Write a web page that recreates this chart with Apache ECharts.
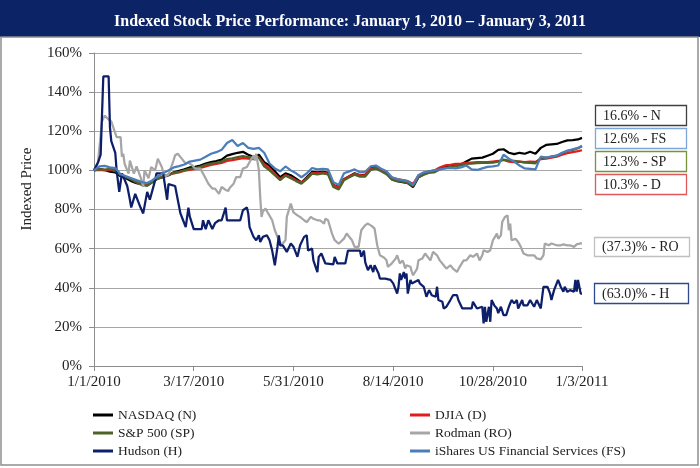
<!DOCTYPE html>
<html><head><meta charset="utf-8">
<script src="https://cdn.jsdelivr.net/npm/echarts@6/dist/echarts.min.js"></script>
<style>html,body{margin:0;padding:0;background:#fff}#c{width:700px;height:468px}</style>
</head><body><div id="c"></div>
<script>
// x values are days since 1/1/2010
const indexDays = [0,4,8,12,16,20,24,28,32,36,40,44,48,52,56,60,64,68,72,76,80,84,88,92,96,100,104,108,112,116,120,124,128,132,136,140,144,148,152,156,160,164,168,172,176,180,184,188,192,196,200,204,208,212,216,220,224,228,232,236,240,244,248,252,256,260,264,268,272,276,280,284,288,292,296,300,304,308,312,316,320,324,328,332,336,340,344,348,352,356,360,364,367];
const nasdaq = [100,100.8,100.2,99.3,99.0,97.0,96.0,94.5,93.5,93.0,
92.3,94.0,95.8,96.5,97.5,99.0,99.8,100.5,101.5,101.8,
102.5,103.5,104.2,104.8,105.5,107.5,108.3,109.0,109.5,108.0,
107.0,108.0,104.2,102.5,99.5,96.5,98.5,97.5,95.8,93.8,
96.5,99.3,99.0,99.3,98.8,92.5,91.5,95.5,97.0,98.5,
97.5,97.8,101.0,101.7,100.2,98.5,95.5,94.5,94.0,93.5,
91.5,96.5,98.0,99.0,99.3,101.0,101.5,102.3,102.5,103.0,
104.5,106.0,106.3,106.5,107.5,108.5,110.5,110.8,109.0,108.3,
109.0,108.5,109.5,108.5,111.5,113.0,113.3,113.5,114.5,115.3,
115.5,115.8,116.6];
const djia = [100,100.3,100.0,100.2,99.8,97.8,96.8,95.8,94.5,93.5,
92.8,94.5,96.0,97.0,97.8,98.5,99.0,99.8,100.3,100.8,
101.2,102.0,102.8,103.3,103.8,104.8,105.2,105.8,106.3,106.0,
105.8,106.5,103.2,101.0,98.0,95.5,97.5,96.5,95.0,93.8,
96.0,98.7,98.5,98.8,98.3,92.5,91.0,95.5,97.0,98.3,
97.5,97.5,100.8,101.3,100.3,98.8,96.3,95.5,95.0,94.5,
93.0,97.5,98.5,99.5,100.0,101.5,102.5,102.8,103.3,103.5,
103.8,104.0,104.2,104.2,104.2,104.5,104.8,105.3,104.5,104.2,
104.5,104.2,104.5,104.3,105.8,106.0,106.5,107.0,108.0,108.8,
109.3,109.8,110.3];
const sp500 = [100,100.6,100.4,100.8,100.3,97.5,96.5,95.3,93.8,92.5,
92.2,94.2,95.8,96.8,97.5,98.8,99.3,100.0,100.8,101.2,
101.8,102.8,103.5,103.8,104.5,105.8,106.2,106.8,107.3,106.8,
106.3,106.5,102.0,100.0,97.5,95.0,97.3,96.0,94.5,93.2,
95.5,98.3,98.0,98.5,98.0,91.5,90.3,95.0,96.5,97.8,
96.8,96.8,100.2,100.9,99.6,98.0,95.3,94.5,94.2,93.5,
92.0,96.5,97.8,98.8,99.0,100.5,101.2,101.8,102.2,102.5,
103.3,103.5,103.7,103.8,103.8,104.0,104.5,105.5,105.0,104.8,
104.5,104.0,103.8,103.6,106.5,106.5,107.0,107.5,108.8,110.0,
110.5,111.3,112.3];
const ishares = [100,102.0,102.3,101.5,101.2,98.0,97.0,96.0,95.0,94.0,
93.5,95.0,97.0,98.5,100.0,101.5,102.2,103.0,104.5,105.0,
105.5,107.0,108.5,109.3,110.5,114.0,115.5,112.5,114.0,111.5,
111.0,111.5,109.0,103.5,101.0,99.5,102.0,100.0,98.5,96.5,
98.5,101.2,100.5,100.8,100.5,94.0,92.5,98.5,99.5,100.5,
99.0,99.3,102.0,102.5,100.8,99.5,96.5,95.5,95.0,94.5,
92.5,97.5,99.0,99.5,100.0,100.5,101.0,101.3,101.0,101.5,
102.5,100.5,100.2,101.0,101.8,102.0,102.5,108.0,106.0,104.5,
102.5,101.0,100.8,100.5,107.0,106.5,107.0,107.5,109.0,110.0,
110.8,111.5,112.6];
const hudsonDays = [0,3,5,7,11,12,13,16,17,19,21,25,27,28,31,35,37,40,42,46,47,52,55,56,61,63,65,67,69,71,72,75,81,82,84,86,89,91,94,96,99,100,110,112,115,116,117,120,122,124,125,127,130,132,134,136,138,139,140,142,145,148,150,153,155,158,160,161,164,165,168,169,171,174,175,180,181,183,186,189,191,200,201,203,204,206,208,210,211,214,215,219,223,225,228,229,230,231,233,234,235,236,238,239,244,245,248,250,252,254,257,258,259,262,263,265,268,270,273,274,277,284,285,288,292,293,294,295,297,298,299,301,303,304,306,308,310,312,314,316,318,319,322,323,326,328,331,333,336,338,341,343,344,346,349,351,353,354,356,358,361,362,363,364,366,367];
const hudsonValues = [100,104,108,148,148,122,115,109,100,89,98.5,92,85,81,88,81,78,89,85,95,98.5,98.5,85,93,92,85,78,74.5,71,81,76.5,70,70,74.5,70,74.5,70,73,74.5,74.5,81,74.5,74.5,79.6,81,78,71,66,64.3,66.8,63.4,66,66.8,64.3,59,51.5,61,66.8,61.7,61.7,58.3,62.6,61,55.8,61.7,66,66.8,59,60,54,48,55.8,57.5,52.4,51.5,52,55.8,52.4,52.4,52.4,59,59,55.8,59,53,49,51.5,48,51.5,47.3,44.7,44.7,44,42.2,37,40.5,47.3,44,48,44.7,47.3,37,44,42.2,44,42.2,40.5,35.4,38.8,36.2,35.4,40.5,33.7,32.8,29.4,30.3,33.7,36.2,36.2,33.7,29.4,29.4,32.8,29.4,30.3,21.8,30.3,22.6,30.3,22.6,33.7,31,29.4,27,30.3,26,26,30.3,33.7,32,33.7,29.4,33.7,31,31,33.7,30.3,33.7,29.4,40.5,40.5,37,33.7,38.8,44,40.5,38,40.5,37.9,38.8,38,44,38,44,37,37];
const rodmanDays = [0,3,6,8,11,13,15,17,20,21,22,23,25,26,27,30,32,35,37,38,41,43,46,48,51,53,56,59,61,63,66,69,71,74,76,80,84,86,89,91,94,96,99,101,102,105,107,110,112,115,117,120,121,122,124,125,126,127,129,131,134,136,139,141,144,145,148,150,153,155,158,160,163,165,168,170,173,174,176,179,181,184,185,188,190,191,194,196,199,201,204,206,209,211,213,215,218,220,221,224,227,228,230,232,233,234,235,238,239,240,243,244,247,249,250,253,255,258,260,263,265,268,270,273,275,278,280,283,285,288,290,292,293,296,298,300,303,304,306,307,309,311,312,313,314,317,319,321,323,326,331,333,336,338,339,342,344,348,351,353,356,358,361,363,366,367];
const rodmanValues = [100,104,125,128,126,125,121,117,117,107,108.5,103.4,100,98.3,105,98.3,102,96.6,91.5,100,96,101.7,100,106,101.7,96.6,98,103.4,107.7,108.5,106,103.4,104,102.5,100.9,100.9,95.8,93.2,90.7,90.7,88,91.5,90,89.5,91,93.2,96.6,96.6,100.9,101.7,104.3,107.7,105,108.5,100,86.4,76.2,79,80.5,78,74.5,69.4,64.3,62,64.3,76.2,83,78.5,77,76.2,74.5,73.5,76.2,75.3,74.5,74.5,72.8,75.3,74.5,67.7,64.3,62.5,63.5,65.1,67.7,67,64.3,60.9,60.9,69.4,72,72.8,71.5,70.2,61.7,56.6,55.5,54,50.7,52.5,55,56.6,52.4,54,52.4,49.8,51.5,50.7,48.1,46.4,49.8,54,55,57.5,56.6,54,58.3,56.6,54,51.5,49.8,51.5,49.8,48.1,50.7,54,54,56.6,55.8,57.5,54,56.6,59.2,58.3,59.2,64.3,67.7,65,66.8,73.6,76.2,77,69.4,72.8,64.3,65,63.4,60.9,57.5,56.6,56.6,55,54.5,56.6,62.6,61.7,62.6,61.7,61.7,62.2,61.7,61.7,60.9,62.2,62.7,62.7];
const seriesNames = ['NASDAQ (N)','DJIA (D)','S&P 500 (SP)','Rodman (RO)','Hudson (H)','iShares US Financial Services (FS)'];
const endLabels = ['16.6% - N','12.6% - FS','12.3% - SP','10.3% - D','(37.3)% - RO','(63.0)% - H'];
const yTicks = [0,20,40,60,80,100,120,140,160];
const xTickDays = [0,75,150,225,300,367];
const titleText = 'Indexed Stock Price Performance: January 1, 2010 \u2013 January 3, 2011';

const SERIF = '"Liberation Serif","Times New Roman",serif';
const colors = {N:'#000000', D:'#e41a1c', SP:'#4f6228', RO:'#a6a6a6', H:'#0d1f6b', FS:'#4a7ebb'};
function zip(xs, ys){ return xs.map((x,i)=>[x, ys[i]]); }
function fmtDate(d){
  const t = new Date(Date.UTC(2010,0,1) + Math.round(d)*86400000);
  return (t.getUTCMonth()+1) + '/' + t.getUTCDate() + '/' + t.getUTCFullYear();
}
function line(name, data, color){
  return {name, type:'line', data, showSymbol:false, symbol:'none', color,
    lineStyle:{width:2.25, color}, itemStyle:{color}, emphasis:{disabled:true}, animation:false};
}
const boxLayout = [
  {x:595, y:105, w:91, h:20, stroke:'#404040'},
  {x:595, y:128, w:91, h:20, stroke:'#7ea6d8'},
  {x:595, y:151, w:91, h:20, stroke:'#77933c'},
  {x:595, y:174, w:91, h:20, stroke:'#dd5a5a'},
  {x:594, y:237, w:95, h:19, stroke:'#c0c0c0'},
  {x:594, y:283, w:94, h:20, stroke:'#2e4a8c'}
];
const graphics = [
  {type:'rect', shape:{x:0,y:0,width:700,height:37}, style:{fill:'#0c2366'}, z:-10},
  {type:'rect', shape:{x:1,y:37,width:697,height:428}, style:{fill:'none', stroke:'#8f8f8f', lineWidth:1.5}, z:-10},
  {type:'text', x:27, y:189, rotation:Math.PI/2,
    style:{text:'Indexed Price', fontSize:15, fontFamily:SERIF, fill:'#222', textAlign:'center', textVerticalAlign:'middle'}}
];
boxLayout.forEach((b,i)=>{
  graphics.push({type:'rect', shape:{x:b.x+0.5, y:b.y+0.5, width:b.w, height:b.h}, style:{fill:'#fff', stroke:b.stroke, lineWidth:1.3}});
  graphics.push({type:'text', x:b.x+8, y:b.y+b.h/2+1, style:{text:endLabels[i], fontSize:14, fontFamily:SERIF, fill:'#222', textAlign:'left', textVerticalAlign:'middle'}});
});

const chart = echarts.init(document.getElementById('c'), null, {renderer:'canvas'});
const legendCommon = {orient:'vertical', top:408, padding:0, itemWidth:20, itemHeight:3, itemGap:4, icon:'rect',
  textStyle:{fontFamily:SERIF, fontSize:13.5, color:'#222', lineHeight:14}, selectedMode:false};
chart.setOption({
  animation:false,
  title:{text:titleText, left:'center', top:9, textStyle:{color:'#fff', fontFamily:SERIF, fontWeight:'bold', fontSize:16}},
  graphic:{elements:graphics},
  legend:[
    Object.assign({left:93, data:[seriesNames[0], seriesNames[2], seriesNames[4]]}, legendCommon),
    Object.assign({left:410, data:[seriesNames[1], seriesNames[3], seriesNames[5]]}, legendCommon)
  ],
  grid:{left:94, top:53, width:488, height:313, outerBoundsMode:'none'},
  xAxis:{type:'value', min:xTickDays[0], max:xTickDays[xTickDays.length-1], interval:xTickDays[1]-xTickDays[0],
    axisLine:{show:true, lineStyle:{color:'#8c8c8c', width:1}},
    axisTick:{show:true, length:5, lineStyle:{color:'#8c8c8c'}},
    splitLine:{show:false},
    axisLabel:{formatter:fmtDate, fontFamily:SERIF, fontSize:15, color:'#222', margin:9}},
  yAxis:{type:'value', min:yTicks[0], max:yTicks[yTicks.length-1], interval:yTicks[1]-yTicks[0],
    axisLine:{show:true, lineStyle:{color:'#8c8c8c', width:1}},
    axisTick:{show:true, length:5, lineStyle:{color:'#8c8c8c'}},
    splitLine:{show:true, lineStyle:{color:'#a6a6a6', width:1}},
    axisLabel:{formatter:'{value}%', fontFamily:SERIF, fontSize:15, color:'#222', margin:12}},
  series:[
    line(seriesNames[0], zip(indexDays, nasdaq), colors.N),
    line(seriesNames[1], zip(indexDays, djia), colors.D),
    line(seriesNames[2], zip(indexDays, sp500), colors.SP),
    line(seriesNames[3], zip(rodmanDays, rodmanValues), colors.RO),
    line(seriesNames[4], zip(hudsonDays, hudsonValues), colors.H),
    line(seriesNames[5], zip(indexDays, ishares), colors.FS)
  ]
});
</script>
</body></html>
